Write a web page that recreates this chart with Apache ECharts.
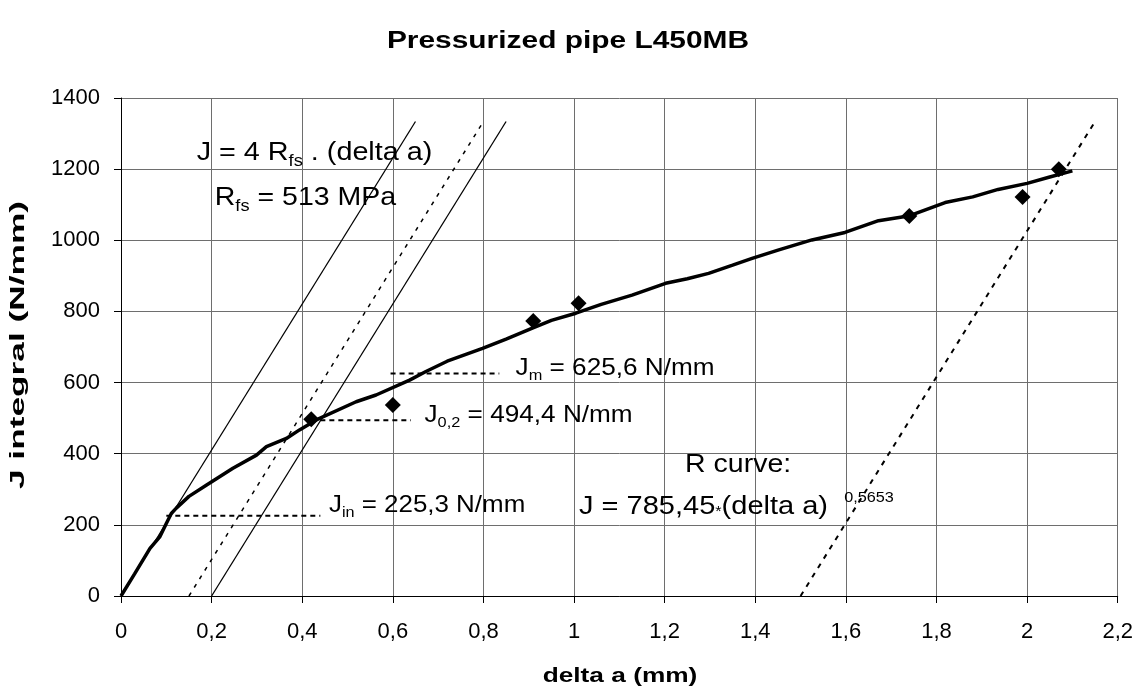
<!DOCTYPE html>
<html><head><meta charset="utf-8">
<script src="https://cdn.jsdelivr.net/npm/echarts@6/dist/echarts.min.js"></script>
<style>html,body{margin:0;padding:0;background:#fff}#c{width:1136px;height:696px}</style>
</head><body><div id="c"></div>
<script>
// R curve (thick line)
const rCurveX = [0, 0.03, 0.064, 0.086, 0.1, 0.111, 0.122, 0.15, 0.189, 0.247, 0.299, 0.321, 0.365, 0.394, 0.431, 0.519, 0.563, 0.637, 0.673, 0.72, 0.798, 0.85, 0.908, 0.95, 1.004, 1.06, 1.128, 1.202, 1.25, 1.297, 1.35, 1.393, 1.452, 1.525, 1.598, 1.672, 1.738, 1.819, 1.88, 1.936, 2.0, 2.05, 2.1];
const rCurveJ = [0, 62, 134, 167, 204, 232, 247, 280, 312, 359, 396, 420, 443, 467, 495, 546, 565, 607, 631, 660, 696, 722, 753, 775, 795, 820, 846, 879, 892, 907, 930, 949, 973, 1001, 1022, 1055, 1068, 1106, 1122, 1143, 1160, 1178, 1195];
// measured points (diamonds)
const testX = [0.42, 0.60, 0.91, 1.01, 1.74, 1.99, 2.07];
const testJ = [497, 537, 773, 823, 1068, 1122, 1200];
// blunting line and offset lines
const bluntJ = [0, 1334];
const bluntX = [0, 0.65];
const offset015X = [0.15, 0.80];
const offset02X = [0.20, 0.85];
const offset15X = [1.50, 2.15];
// characteristic values (horizontal dashed markers)
const jInX = [0.10, 0.44];   const jInVal = 225.3;
const j02X = [0.44, 0.64];   const j02Val = 494.4;
const jmX = [0.595, 0.835];  const jmVal = 625.6;
// axes
const xMin = 0, xMax = 2.2, xStep = 0.2;
const yMin = 0, yMax = 1400, yStep = 200;
const titleText = 'Pressurized pipe L450MB';
const xName = 'delta a (mm)';
const yName = 'J integral (N/mm)';

const FONT = "'Liberation Sans', Arial, sans-serif";
const zip = (xs, ys) => xs.map((x, i) => [x, ys[i]]);
const flat = (xs, v) => xs.map(x => [x, v]);

const chart = echarts.init(document.getElementById('c'), null, {renderer: 'canvas'});

const thin = {color: '#000', width: 1.3, type: 'solid'};
const dotted = {color: '#000', width: 1.5, type: [4, 6]};
const dashed = {color: '#000', width: 2, type: [5, 4]};

function lineSeries(data, style, z) {
  return {type: 'line', data, showSymbol: false, symbol: 'none', lineStyle: style, z: z || 2, silent: true, animation: false};
}

chart.setOption({
  animation: false,
  grid: {left: 121, top: 98, right: 16, bottom: 100, containLabel: false},
  xAxis: {
    type: 'value', min: xMin, max: xMax, interval: xStep,
    axisLine: {lineStyle: {color: '#000', width: 1}},
    axisTick: {show: true, length: 7, lineStyle: {color: '#000'}},
    axisLabel: {fontFamily: FONT, fontSize: 22, color: '#000', margin: 25,
      formatter: v => String(+v.toFixed(1)).replace('.', ',')},
    splitLine: {show: true, lineStyle: {color: '#6e6e6e', width: 1}}
  },
  yAxis: {
    type: 'value', min: yMin, max: yMax, interval: yStep,
    axisLine: {show: true, lineStyle: {color: '#000', width: 1}},
    axisTick: {show: true, length: 7, lineStyle: {color: '#000'}},
    axisLabel: {fontFamily: FONT, fontSize: 22, color: '#000', margin: 21, formatter: v => String(v)},
    splitLine: {show: true, lineStyle: {color: '#6e6e6e', width: 1}}
  },
  series: [
    lineSeries(zip(bluntX, bluntJ), thin),
    lineSeries(zip(offset015X, bluntJ), dotted),
    lineSeries(zip(offset02X, bluntJ), thin),
    lineSeries(zip(offset15X, bluntJ), {color: '#000', width: 2, type: [5, 6]}),
    lineSeries(flat(jInX, jInVal), dashed),
    lineSeries(flat(j02X, j02Val), dashed),
    lineSeries(flat(jmX, jmVal), dashed),
    lineSeries(zip(rCurveX, rCurveJ), {color: '#000', width: 3.5, type: 'solid'}, 4),
    {type: 'scatter', data: zip(testX, testJ), symbol: 'diamond', symbolSize: 16,
     itemStyle: {color: '#000', opacity: 1}, z: 5, silent: true}
  ]
});

function richFor(F) {
  const base = {fontFamily: FONT, color: '#000', verticalAlign: 'top'};
  return {
    m: Object.assign({}, base, {fontSize: F}),
    s: Object.assign({}, base, {fontSize: Math.round(0.62 * F), padding: [Math.round(0.5 * F), 0, 0, 0]}),
    b: Object.assign({}, base, {fontSize: F, padding: [3, 0, 0, 0]}),
    a: Object.assign({}, base, {fontSize: 14, padding: [14, 0, 0, 0]}),
    p: Object.assign({}, base, {fontSize: Math.round(0.56 * F), padding: [0, 0, 0, 14]})
  };
}
// annotations: anchor = [left x, centre J] in data coordinates
const annotations = [
  {at: [0.167, 1245], F: 25, sx: 1.15, off: 0, text: '{m|J = 4 R}{s|fs}{m| . (delta a)}'},
  {at: [0.207, 1119], F: 25, sx: 1.14, off: 0, text: '{m|R}{s|fs}{m| = 513 MPa}'},
  {at: [0.871, 641], F: 24, sx: 1.09, off: 0, text: '{m|J}{s|m}{m| = 625,6 N/mm}'},
  {at: [0.670, 509], F: 24, sx: 1.09, off: 0, text: '{m|J}{s|0,2}{m| = 494,4 N/mm}'},
  {at: [0.459, 256], F: 24, sx: 1.08, off: 0, text: '{m|J}{s|in}{m| = 225,3 N/mm}'},
  {at: [1.245, 368], F: 25, sx: 1.14, off: 0, text: '{m|R curve:}'},
  {at: [1.011, 250], F: 25, sx: 1.16, off: 3, text: '{b|J = 785,45}{a|*}{b|(delta a)}{p|0,5653}'}
];
const gEls = annotations.map(a => {
  const p = chart.convertToPixel({gridIndex: 0}, a.at);
  return {type: 'text', x: p[0], y: p[1] - a.F / 2 - a.off, scaleX: a.sx, z: 10, silent: true,
    style: {text: a.text, rich: richFor(a.F), font: a.F + 'px ' + FONT, fill: '#000', align: 'left', verticalAlign: 'top'}};
});
// title and axis names (text widened horizontally like the reference)
gEls.push({type: 'text', x: 568, y: 42, scaleX: 1.3, z: 10, silent: true,
  style: {text: titleText, font: 'bold 23px ' + FONT, fill: '#000', align: 'center', verticalAlign: 'middle'}});
gEls.push({type: 'text', x: 620, y: 676, scaleX: 1.25, z: 10, silent: true,
  style: {text: xName, font: 'bold 21px ' + FONT, fill: '#000', align: 'center', verticalAlign: 'middle'}});
gEls.push({type: 'text', x: 18, y: 345, rotation: Math.PI / 2, scaleX: 1.68, scaleY: 1.0, z: 10, silent: true,
  style: {text: yName, font: 'bold 21px ' + FONT, fill: '#000', align: 'center', verticalAlign: 'middle'}});
chart.setOption({graphic: gEls});
</script></body></html>
